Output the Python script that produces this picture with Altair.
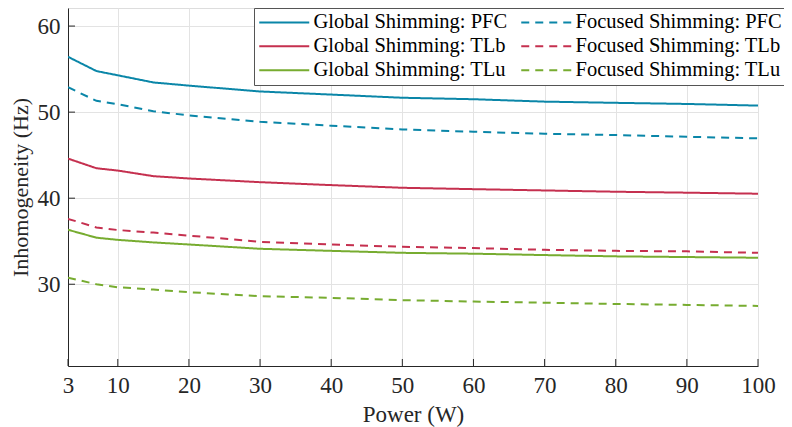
import altair as alt
import pandas as pd

power = [3, 7, 10, 15, 20, 30, 40, 50, 60, 70, 80, 90, 100]
global_pfc = [56.43, 54.77, 54.28, 53.45, 53.08, 52.40, 52.04, 51.67, 51.50, 51.22, 51.08, 50.95, 50.76]
focused_pfc = [52.89, 51.31, 50.92, 50.10, 49.62, 48.87, 48.42, 47.99, 47.72, 47.49, 47.34, 47.14, 46.95]
global_tlb = [44.60, 43.48, 43.21, 42.56, 42.29, 41.86, 41.52, 41.21, 41.05, 40.90, 40.75, 40.64, 40.52]
focused_tlb = [37.60, 36.60, 36.30, 36.00, 35.65, 34.93, 34.62, 34.35, 34.20, 34.00, 33.88, 33.82, 33.65]
global_tlu = [36.33, 35.41, 35.16, 34.86, 34.62, 34.12, 33.88, 33.65, 33.55, 33.39, 33.24, 33.16, 33.08]
focused_tlu = [30.77, 30.00, 29.65, 29.38, 29.08, 28.61, 28.42, 28.15, 27.99, 27.86, 27.71, 27.60, 27.48]

# legend fills column by column: global series in column 1, focused in column 2
series_names = [
    "Global Shimming: PFC", "Global Shimming: TLb", "Global Shimming: TLu",
    "Focused Shimming: PFC", "Focused Shimming: TLb", "Focused Shimming: TLu",
]
series_values = [global_pfc, global_tlb, global_tlu, focused_pfc, focused_tlb, focused_tlu]
series_colors = ["#0A86A8", "#C5304F", "#77AC30", "#0A86A8", "#C5304F", "#77AC30"]
series_dash = [[1, 0], [1, 0], [1, 0], [8, 6], [8, 6], [8, 6]]

x_ticks = [3, 10, 20, 30, 40, 50, 60, 70, 80, 90, 100]
y_ticks = [30, 40, 50, 60]

rows = []
for name, vals in zip(series_names, series_values):
    for p, v in zip(power, vals):
        rows.append({"power": p, "value": v, "series": name})
df = pd.DataFrame(rows)

FONT = "Liberation Serif"
W, H = 690, 358
xs = alt.Scale(domain=[3, 100], nice=False, zero=False)
ys = alt.Scale(domain=[20.5, 62.1], nice=False, zero=False)

legend = alt.Legend(
    title=None, orient="none", legendX=186, legendY=0, columns=2,
    symbolType="M-1.8,0L8.2,0", symbolSize=100, symbolStrokeWidth=2,
    symbolFillColor="transparent",
    labelFont=FONT, labelFontSize=20.5, labelColor="black", labelOffset=35, labelLimit=0,
    rowPadding=3, columnPadding=9, padding=4,
    strokeColor="#555555", fillColor="white",
)

lines = alt.Chart(df).mark_line(strokeWidth=2, clip=True).encode(
    x=alt.X("power:Q", scale=xs,
            axis=alt.Axis(values=x_ticks, title="Power (W)", grid=True, gridColor="#e3e3e3",
                          tickSize=0, labelPadding=8, titlePadding=6,
                          domainColor="#262626", labelFont=FONT, labelFontSize=23,
                          labelColor="#262626", titleFont=FONT, titleFontSize=23,
                          titleFontWeight="normal", titleColor="#262626", labelFlush=False)),
    y=alt.Y("value:Q", scale=ys,
            axis=alt.Axis(values=y_ticks, title="Inhomogeneity (Hz)", grid=True, gridColor="#e3e3e3",
                          tickSize=0, labelPadding=8, titlePadding=5,
                          domainColor="#262626", labelFont=FONT, labelFontSize=23,
                          labelColor="#262626", titleFont=FONT, titleFontSize=22,
                          titleFontWeight="normal", titleColor="#262626")),
    color=alt.Color("series:N", scale=alt.Scale(domain=series_names, range=series_colors),
                    sort=series_names, legend=legend),
    strokeDash=alt.StrokeDash("series:N", scale=alt.Scale(domain=series_names, range=series_dash),
                              sort=series_names, legend=legend),
)

xt = alt.Chart(pd.DataFrame({"t": x_ticks})).mark_rule(color="#262626", strokeWidth=1).encode(
    x=alt.X("t:Q", scale=xs), y=alt.value(H), y2=alt.value(H - 7))
yt = alt.Chart(pd.DataFrame({"t": y_ticks})).mark_rule(color="#262626", strokeWidth=1).encode(
    y=alt.Y("t:Q", scale=ys), x=alt.value(0), x2=alt.value(7))

chart = alt.layer(lines, xt, yt).properties(
    width=W, height=H,
    autosize=alt.AutoSizeParams(type="none"),
    padding={"left": 60, "top": 0, "right": 26, "bottom": 61},
).configure_view(stroke=None).configure(background="white")

chart.save("out.html", embed_options={"renderer": "svg", "actions": False})
